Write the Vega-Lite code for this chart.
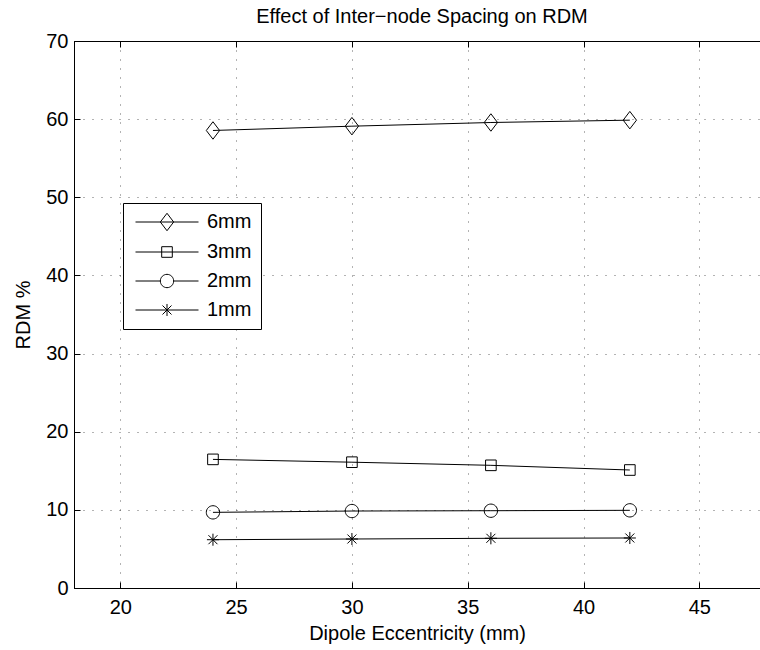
{
  "$schema": "https://vega.github.io/schema/vega-lite/v6.json",
  "width": 686,
  "height": 547,
  "autosize": {"type": "none"},
  "padding": {"left": 74, "top": 41, "right": 0, "bottom": 62},
  "background": "white",
  "title": {
    "text": "Effect of Inter−node Spacing on RDM",
    "fontSize": 20,
    "fontWeight": "normal",
    "font": "Liberation Sans",
    "color": "#000",
    "offset": 4,
    "dx": 5
  },
  "data": {
    "values": [
      {"series": "6mm", "x": 24, "y": 58.55},
      {"series": "6mm", "x": 30, "y": 59.1},
      {"series": "6mm", "x": 36, "y": 59.57},
      {"series": "6mm", "x": 42, "y": 59.87},
      {"series": "3mm", "x": 24, "y": 16.46},
      {"series": "3mm", "x": 30, "y": 16.1},
      {"series": "3mm", "x": 36, "y": 15.7},
      {"series": "3mm", "x": 42, "y": 15.1},
      {"series": "2mm", "x": 24, "y": 9.68},
      {"series": "2mm", "x": 30, "y": 9.85},
      {"series": "2mm", "x": 36, "y": 9.89},
      {"series": "2mm", "x": 42, "y": 9.94},
      {"series": "1mm", "x": 24, "y": 6.18},
      {"series": "1mm", "x": 30, "y": 6.27},
      {"series": "1mm", "x": 36, "y": 6.36},
      {"series": "1mm", "x": 42, "y": 6.4}
    ]
  },
  "layer": [
    {
      "layer": [
        {
          "mark": {"type": "line", "stroke": "#000", "strokeWidth": 1},
          "encoding": {
            "x": {
              "field": "x", "type": "quantitative",
              "scale": {"domain": [18, 47.62], "nice": false, "zero": false},
              "axis": {
                "orient": "bottom",
                "values": [20, 25, 30, 35, 40, 45],
                "grid": true,
                "title": "Dipole Eccentricity (mm)",
                "titlePadding": 6
              }
            },
            "y": {
              "field": "y", "type": "quantitative",
              "scale": {"domain": [0, 70], "nice": false},
              "axis": {
                "orient": "left",
                "values": [0, 10, 20, 30, 40, 50, 60, 70],
                "grid": true,
                "title": "RDM %",
                "titlePadding": 12,
                "labelPadding": 12
              }
            },
            "detail": {"field": "series", "type": "nominal"}
          }
        },
        {
          "mark": {"type": "point", "filled": false, "stroke": "#000", "strokeWidth": 1, "size": 324, "opacity": 1},
          "encoding": {
            "x": {"field": "x", "type": "quantitative"},
            "y": {"field": "y", "type": "quantitative"},
            "shape": {
              "field": "series", "type": "nominal",
              "scale": {
                "domain": ["6mm", "3mm", "2mm", "1mm"],
                "range": [
                  "M0,-0.97L0.74,0L0,0.97L-0.74,0Z",
                  "M-0.59,-0.59H0.59V0.59H-0.59Z",
                  "M0.74,0A0.74,0.74,0,1,1,-0.74,0A0.74,0.74,0,1,1,0.74,0Z",
                  "M0,-0.67V0.67M-0.67,0H0.67M-0.5,-0.5L0.5,0.5M-0.5,0.5L0.5,-0.5"
                ]
              },
              "legend": null
            }
          }
        },
        {
          "transform": [{"filter": "false"}],
          "mark": {"type": "point", "filled": false, "stroke": "#000", "strokeWidth": 1, "size": 324, "opacity": 1},
          "encoding": {
            "x": {"field": "x", "type": "quantitative"},
            "y": {"field": "y", "type": "quantitative"},
            "shape": {
              "field": "series", "type": "nominal",
              "scale": {
                "domain": ["6mm", "3mm", "2mm", "1mm"],
                "range": [
                  "M-3.5,0H3.5M0,-0.97L0.74,0L0,0.97L-0.74,0Z",
                  "M-3.5,0H3.5M-0.59,-0.59H0.59V0.59H-0.59Z",
                  "M-3.5,0H-0.74M0.74,0H3.5M0.74,0A0.74,0.74,0,1,1,-0.74,0A0.74,0.74,0,1,1,0.74,0Z",
                  "M-3.5,0H3.5M0,-0.67V0.67M-0.5,-0.5L0.5,0.5M-0.5,0.5L0.5,-0.5"
                ]
              },
              "legend": {
                "orient": "none",
                "legendX": 49,
                "legendY": 162,
                "title": null,
                "strokeColor": "#000",
                "fillColor": "#fff",
                "padding": 9,
                "symbolSize": 324,
                "symbolStrokeWidth": 1,
                "symbolStrokeColor": "#000",
                "symbolFillColor": "transparent",
                "symbolOffset": 25,
                "labelOffset": 30,
                "rowPadding": 9,
                "labelFontSize": 20,
                "labelColor": "#000",
                "labelFont": "Liberation Sans"
              }
            }
          }
        }
      ],
      "resolve": {"scale": {"shape": "independent"}}
    },
    {
      "transform": [{"filter": "false"}],
      "mark": {"type": "point", "opacity": 0},
      "encoding": {
        "x": {
          "field": "x", "type": "quantitative",
          "axis": {"orient": "top", "values": [20, 25, 30, 35, 40, 45], "labels": false, "grid": false, "title": null}
        },
        "y": {"field": "y", "type": "quantitative"}
      }
    }
  ],
  "config": {
    "font": "Liberation Sans",
    "view": {"stroke": "#000", "strokeWidth": 1},
    "axis": {
      "domainColor": "#000",
      "domainWidth": 1,
      "tickColor": "#000",
      "tickSize": -6,
      "tickWidth": 1,
      "gridColor": "#000",
      "gridOpacity": 0.6,
      "gridDash": [1, 8],
      "gridWidth": 1,
      "labelFontSize": 20,
      "labelColor": "#000",
      "labelFont": "Liberation Sans",
      "labelPadding": 15,
      "titleFontSize": 20,
      "titleFontWeight": "normal",
      "titleColor": "#000",
      "titleFont": "Liberation Sans"
    }
  }
}
